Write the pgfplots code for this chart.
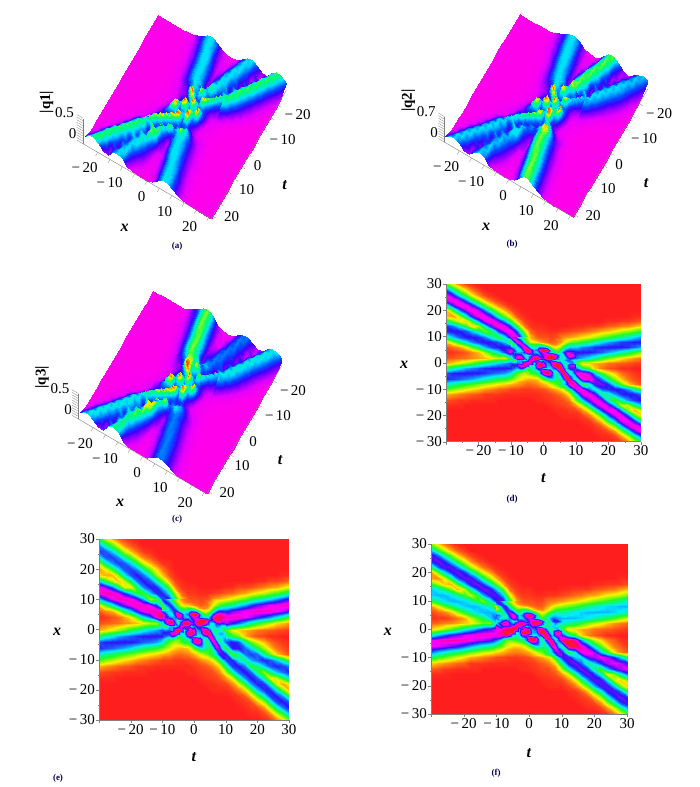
\documentclass[border=0pt]{standalone}
\usepackage{fontspec}
\setmainfont{Liberation Serif}
\usepackage{pgfplots}
\usepackage{pgfplotstable}
\pgfplotsset{compat=1.18}

% rows run x=30 ... x=-30 (step 2), columns t=-30 ... t=30 (step 2)
\pgfplotstableread[header=false]{
31 17 9 3 1 0 0 0 0 0 0 0 0 0 0 0 0 0 0 0 0 0 0 0 0 0 0 0 0 0 0
60 38 24 13 6 2 0 0 0 0 0 0 0 0 0 0 0 0 0 0 0 0 0 0 0 0 0 0 0 0 0
80 68 49 31 17 8 3 1 0 0 0 0 0 0 0 0 0 0 0 0 0 0 0 0 0 0 0 0 0 0 0
76 83 76 58 38 23 12 5 2 0 0 0 0 0 0 0 0 0 0 0 0 0 0 0 0 0 0 0 0 0 0
44 70 81 80 68 47 29 16 8 3 1 0 0 0 0 0 0 0 0 0 0 0 0 0 0 0 0 0 0 0 0
13 34 58 76 83 75 57 36 21 11 4 1 0 0 0 0 0 0 0 0 0 0 0 0 0 0 0 0 0 0 0
13 10 22 46 70 82 80 66 44 27 14 4 1 0 0 0 0 0 0 0 0 0 0 0 0 0 0 0 0 1 1
41 29 18 14 34 59 78 83 73 54 33 13 3 1 0 0 0 0 0 0 0 0 0 0 0 1 1 2 2 3 5
65 59 48 33 15 24 48 72 83 79 61 33 8 2 1 1 0 0 0 0 1 1 2 2 3 5 6 8 9 12 15
65 68 67 62 52 40 27 38 63 79 81 60 24 6 2 2 1 1 2 3 4 5 7 9 12 14 17 21 24 28 33
41 53 62 67 68 65 58 44 33 50 76 81 45 14 5 4 3 4 9 10 13 16 19 23 28 32 37 41 46 51 57
13 24 36 48 58 65 68 66 62 52 28 76 74 32 20 9 5 6 15 25 30 34 39 45 51 56 60 64 65 67 68
4 7 10 18 30 42 55 64 67 68 65 60 83 40 80 85 45 25 38 55 52 58 61 65 67 68 68 67 65 61 56
1 2 3 5 9 14 25 38 48 65 82 60 70 95 58 58 50 35 45 62 68 68 67 65 61 56 51 46 40 33 26
4 5 6 7 9 11 13 18 22 20 40 85 50 97 92 80 98 70 40 55 60 54 49 41 33 27 22 17 13 10 7
11 15 19 24 29 36 41 47 52 56 62 70 50 55 78 78 75 92 45 30 35 14 15 12 10 7 6 5 4 3 2
36 44 49 55 58 62 65 67 68 68 66 55 35 50 82 72 62 88 60 68 60 40 30 13 7 4 3 1 1 0 0
63 66 67 68 68 67 65 61 59 56 49 30 22 30 40 88 88 60 82 55 80 82 75 50 30 20 13 7 4 2 1
66 63 61 58 55 50 45 40 36 33 28 20 14 12 14 30 55 50 90 83 40 80 83 72 58 40 25 14 7 4 2
48 42 38 34 31 27 23 20 17 15 12 10 7 6 8 12 20 30 50 80 78 35 45 70 72 65 45 30 15 8 4
31 26 23 19 16 13 10 8 6 5 3 3 2 2 3 4 8 12 20 42 78 80 60 45 62 65 68 65 56 44 30
12 10 8 6 5 4 2 2 2 1 1 1 1 1 1 2 3 5 9 18 50 78 83 70 40 45 57 65 68 66 60
4 3 2 2 1 1 1 1 0 0 0 0 0 0 1 1 2 3 4 8 28 50 72 83 72 45 30 45 57 64 68
1 1 1 0 0 0 0 0 0 0 0 0 0 0 0 0 1 2 3 4 11 22 46 70 83 74 50 20 22 38 52
0 0 0 0 0 0 0 0 0 0 0 0 0 0 0 0 0 1 1 2 3 9 20 40 67 81 79 57 25 12 22
0 0 0 0 0 0 0 0 0 0 0 0 0 0 0 0 0 0 1 1 1 3 8 18 37 62 79 80 60 32 14
0 0 0 0 0 0 0 0 0 0 0 0 0 0 0 0 0 0 0 0 0 1 2 6 16 34 55 78 81 68 41
0 0 0 0 0 0 0 0 0 0 0 0 0 0 0 0 0 0 0 0 0 0 1 2 5 14 28 52 75 83 75
0 0 0 0 0 0 0 0 0 0 0 0 0 0 0 0 0 0 0 0 0 0 0 1 2 4 11 26 47 70 81
0 0 0 0 0 0 0 0 0 0 0 0 0 0 0 0 0 0 0 0 0 0 0 0 1 1 3 10 23 40 62
0 0 0 0 0 0 0 0 0 0 0 0 0 0 0 0 0 0 0 0 0 0 0 0 0 0 1 2 8 18 34
}\tabD
\pgfplotstableread[header=false]{
37 22 13 6 3 1 0 0 0 0 0 0 0 0 0 0 0 0 0 0 0 0 0 0 0 0 0 0 0 0 0
57 43 30 18 9 4 2 0 0 0 0 0 0 0 0 0 0 0 0 0 0 0 0 0 0 0 0 0 0 0 0
64 62 51 36 22 12 6 2 1 0 0 0 0 0 0 0 0 0 0 0 0 0 0 0 0 0 0 0 0 0 0
49 62 64 57 43 29 16 8 4 1 0 0 0 0 0 0 0 0 0 0 0 0 0 0 0 0 0 0 0 0 0
23 43 57 64 62 50 35 21 12 6 2 1 0 0 0 0 0 0 0 0 0 0 0 0 0 0 0 0 0 0 0
11 18 33 50 62 64 56 42 26 16 7 2 0 0 0 0 0 0 0 0 0 0 0 0 0 0 0 0 0 0 0
16 12 12 25 48 63 67 60 45 25 14 4 1 0 0 0 0 0 0 0 0 0 0 0 0 0 0 0 0 1 1
51 36 22 13 20 40 60 67 62 47 30 12 3 1 0 0 0 0 0 0 0 0 0 0 0 1 1 3 3 4 6
81 74 60 41 19 18 38 58 67 66 52 30 8 2 1 1 0 0 0 0 1 1 3 3 4 6 8 10 11 15 19
81 85 84 78 65 50 34 32 52 65 66 50 22 6 2 2 1 1 2 3 5 6 9 11 15 18 21 26 30 35 41
51 66 78 84 85 81 72 55 22 30 62 66 40 14 5 4 3 4 9 12 16 20 24 29 35 40 46 51 57 64 71
16 30 45 60 72 81 85 82 78 65 35 62 64 30 20 9 5 6 18 30 38 42 49 56 64 70 75 80 81 84 85
5 9 12 22 38 52 69 80 84 85 81 55 75 45 70 88 45 30 45 70 65 72 76 81 84 85 85 84 81 76 70
1 2 4 6 11 18 31 48 60 81 90 75 92 95 55 58 55 60 78 78 85 85 84 81 76 70 64 58 50 41 32
4 5 6 7 9 11 13 18 22 20 45 92 55 88 95 65 90 75 60 55 75 68 61 51 41 34 27 21 16 13 9
11 15 19 24 29 36 41 47 52 56 62 70 60 92 75 50 85 80 55 30 30 18 15 12 10 7 6 5 4 3 2
36 44 49 55 58 62 65 67 68 68 66 55 80 60 90 72 62 88 50 38 45 35 28 13 7 4 3 1 1 0 0
63 66 67 68 68 67 65 61 59 56 49 30 22 30 40 82 82 60 70 45 62 68 64 44 28 20 13 7 4 2 1
66 63 61 58 55 50 45 40 36 33 28 20 14 12 14 30 55 45 70 68 35 66 68 60 50 36 23 14 7 4 2
48 42 38 34 31 27 23 20 17 15 12 10 7 6 8 12 20 28 45 66 65 30 40 60 64 60 42 28 15 8 4
31 26 23 19 16 13 10 8 6 5 3 3 2 2 3 4 8 12 18 36 64 66 50 40 55 60 66 62 54 42 28
12 10 8 6 5 4 2 2 2 1 1 1 1 1 1 2 3 5 9 16 42 64 68 58 34 40 52 62 66 64 58
4 3 2 2 1 1 1 1 0 0 0 0 0 0 1 1 2 3 4 8 24 42 60 68 60 38 25 40 52 60 66
1 1 1 0 0 0 0 0 0 0 0 0 0 0 0 0 1 2 3 4 10 18 38 58 68 62 42 18 20 34 48
0 0 0 0 0 0 0 0 0 0 0 0 0 0 0 0 0 1 1 2 3 8 17 34 56 66 65 47 21 10 18
0 0 0 0 0 0 0 0 0 0 0 0 0 0 0 0 0 0 1 1 1 3 7 15 31 52 65 66 50 27 12
0 0 0 0 0 0 0 0 0 0 0 0 0 0 0 0 0 0 0 0 0 1 2 5 14 28 46 64 67 56 34
0 0 0 0 0 0 0 0 0 0 0 0 0 0 0 0 0 0 0 0 0 0 1 2 4 12 23 43 62 68 62
0 0 0 0 0 0 0 0 0 0 0 0 0 0 0 0 0 0 0 0 0 0 0 1 2 3 9 22 39 58 67
0 0 0 0 0 0 0 0 0 0 0 0 0 0 0 0 0 0 0 0 0 0 0 0 1 1 3 8 19 33 51
0 0 0 0 0 0 0 0 0 0 0 0 0 0 0 0 0 0 0 0 0 0 0 0 0 0 1 2 7 15 28
}\tabE
\pgfplotstableread[header=false]{
27 15 8 3 1 0 0 0 0 0 0 0 0 0 0 0 0 0 0 0 0 0 0 0 0 0 0 0 0 0 0
52 33 21 11 5 2 0 0 0 0 0 0 0 0 0 0 0 0 0 0 0 0 0 0 0 0 0 0 0 0 0
70 59 43 27 15 7 3 1 0 0 0 0 0 0 0 0 0 0 0 0 0 0 0 0 0 0 0 0 0 0 0
66 72 66 50 33 20 10 4 2 0 0 0 0 0 0 0 0 0 0 0 0 0 0 0 0 0 0 0 0 0 0
38 61 70 70 59 41 25 14 7 3 1 0 0 0 0 0 0 0 0 0 0 0 0 0 0 0 0 0 0 0 0
11 30 50 66 72 65 50 31 18 10 3 1 0 0 0 0 0 0 0 0 0 0 0 0 0 0 0 0 0 0 0
10 9 19 40 61 71 70 57 38 23 12 3 1 0 0 0 0 0 0 0 0 0 0 0 0 0 0 0 0 1 1
33 23 14 12 30 51 68 72 64 47 29 11 3 1 0 0 0 0 0 0 0 0 0 0 0 1 1 2 2 2 4
52 47 38 26 12 21 42 63 72 69 53 29 7 2 1 1 0 0 0 0 1 1 2 2 2 4 5 6 7 10 12
52 54 54 50 42 32 22 33 55 69 70 52 21 5 2 2 1 1 2 2 3 4 6 7 10 11 14 17 19 22 26
33 42 50 54 54 52 46 35 26 44 66 70 39 12 5 4 3 3 7 8 10 13 15 18 22 26 30 33 37 41 46
10 19 29 38 46 52 54 53 50 42 22 66 64 28 20 9 5 5 12 20 24 27 31 36 41 45 48 51 52 54 54
3 6 8 14 24 34 44 51 54 54 52 52 72 40 75 85 42 22 30 44 42 46 49 52 54 54 54 54 52 49 45
1 2 2 4 7 11 20 30 38 52 62 55 60 90 60 60 50 30 38 50 54 54 54 52 49 45 41 37 32 26 21
5 6 8 9 11 14 16 22 28 25 50 82 55 97 92 85 98 66 35 44 48 43 39 33 26 22 18 14 10 8 6
14 19 24 30 36 45 51 59 65 70 78 82 70 92 80 78 80 90 45 30 35 16 15 12 10 7 6 5 4 3 2
45 55 61 69 72 78 81 84 85 85 83 85 92 50 82 72 62 88 60 75 68 46 34 15 8 5 3 1 1 0 0
79 82 84 85 85 84 81 76 74 70 61 38 28 35 45 88 85 60 72 55 88 92 85 58 35 23 15 8 5 2 1
82 79 76 72 69 62 56 50 45 41 35 25 18 15 16 30 55 50 80 72 42 90 92 83 67 46 29 16 8 5 2
60 52 48 42 39 34 29 25 21 19 15 12 9 8 9 12 20 28 44 70 68 35 50 80 83 75 52 35 17 9 5
39 32 29 24 20 16 12 10 8 6 4 4 2 2 3 4 8 11 17 37 68 70 52 50 71 75 80 75 64 51 35
15 12 10 8 6 5 2 2 2 1 1 1 1 1 1 2 3 5 8 16 44 68 72 61 40 52 66 75 80 76 69
5 4 2 2 1 1 1 1 0 0 0 0 0 0 1 1 2 3 4 7 24 44 63 72 63 42 32 52 66 74 80
1 1 1 0 0 0 0 0 0 0 0 0 0 0 0 0 1 2 3 4 10 19 40 61 72 64 44 18 25 44 60
0 0 0 0 0 0 0 0 0 0 0 0 0 0 0 0 0 1 1 2 3 8 17 35 58 70 69 50 22 14 25
0 0 0 0 0 0 0 0 0 0 0 0 0 0 0 0 0 0 1 1 1 3 7 16 32 54 69 70 52 28 14
0 0 0 0 0 0 0 0 0 0 0 0 0 0 0 0 0 0 0 0 0 1 2 5 14 30 48 68 70 59 36
0 0 0 0 0 0 0 0 0 0 0 0 0 0 0 0 0 0 0 0 0 0 1 2 4 12 24 45 65 72 65
0 0 0 0 0 0 0 0 0 0 0 0 0 0 0 0 0 0 0 0 0 0 0 1 2 3 10 23 41 61 70
0 0 0 0 0 0 0 0 0 0 0 0 0 0 0 0 0 0 0 0 0 0 0 0 1 1 3 9 20 35 54
0 0 0 0 0 0 0 0 0 0 0 0 0 0 0 0 0 0 0 0 0 0 0 0 0 0 1 2 7 16 30
}\tabF

% interaction zone, finer: rows x=10 ... x=-10, columns t=-10 ... t=10 (step 1)
\pgfplotstableread[header=false]{
80 72 55 40 28 18 12 8 5 4 4 4 3 3 4 6 9 10 10 12 13
62 82 72 55 38 25 15 10 8 7 6 5 4 4 6 8 12 14 17 20 22
30 62 82 74 50 32 22 18 16 12 9 7 5 6 6 10 15 20 25 28 30
28 42 65 82 70 48 35 32 35 34 26 16 10 8 9 14 22 30 37 40 41
60 52 48 68 85 74 50 45 48 60 58 48 30 20 18 24 35 45 52 52 52
80 66 46 50 78 95 80 55 62 92 99 92 58 35 28 35 50 62 65 63 62
74 60 54 55 65 88 78 55 52 70 80 72 52 45 35 45 62 75 75 70 68
55 65 75 70 50 45 55 70 70 60 72 85 88 95 80 50 48 70 88 80 65
40 60 85 88 65 45 70 97 97 78 70 92 99 92 70 45 45 55 70 65 60
40 32 55 55 50 60 85 75 72 50 60 70 70 55 45 45 50 60 62 50 40
62 58 62 55 82 97 85 50 72 88 80 55 65 90 95 70 45 40 55 60 35
65 70 70 85 97 75 42 52 92 99 90 55 58 90 99 92 55 45 75 80 62
66 60 55 70 60 35 40 48 70 72 55 48 50 60 75 95 70 48 70 70 60
55 48 40 35 28 28 35 40 42 60 88 95 80 50 45 85 92 55 42 60 80
49 38 30 25 22 26 30 34 36 60 85 92 82 55 40 62 92 80 45 55 80
38 30 25 20 18 18 20 24 26 34 50 68 68 55 42 50 75 95 70 48 55
28 24 20 17 14 13 12 13 14 22 30 40 50 50 40 42 60 90 88 55 40
20 17 14 11 10 9 9 10 11 15 20 25 32 34 32 38 45 65 90 80 55
12 11 10 8 7 6 6 7 8 10 12 15 20 24 30 38 48 60 80 85 78
7 6 6 5 4 4 4 5 5 7 8 11 14 17 20 28 33 42 60 80 88
3 3 3 2 2 2 2 3 3 3 4 6 8 10 12 16 20 30 42 62 78
}\fineD
\pgfplotstableread[header=false]{
65 60 46 34 24 15 10 7 5 4 4 4 3 3 4 7 12 14 14 15 16
52 68 60 46 32 21 13 9 7 6 5 5 4 4 7 10 15 18 22 24 27
30 52 66 60 42 28 20 16 14 12 9 7 5 6 7 12 18 24 30 35 38
30 40 55 66 58 42 32 30 34 32 26 16 10 9 10 17 28 38 46 50 52
60 55 50 58 70 60 45 45 48 62 60 48 30 20 20 28 44 58 68 66 65
88 70 48 48 72 92 75 52 62 92 99 92 58 35 30 45 66 80 85 82 80
85 70 60 55 60 85 75 55 52 70 80 72 55 50 45 62 82 92 92 88 85
60 75 85 80 55 48 55 70 72 60 72 85 90 95 85 65 72 92 90 80 75
45 65 92 92 65 45 70 97 97 78 70 92 99 95 72 50 50 65 72 68 75
42 35 55 55 50 60 85 75 72 50 60 72 72 58 45 45 48 58 55 45 45
62 58 62 55 82 97 85 50 72 88 78 55 62 85 90 62 42 38 45 42 30
65 70 70 85 97 75 42 52 92 99 85 52 55 82 92 82 50 42 55 55 45
66 60 55 70 60 35 40 48 70 72 52 45 48 55 68 88 65 45 50 50 45
55 48 40 35 28 28 35 40 42 58 85 92 78 48 42 75 85 52 40 50 62
49 38 30 25 22 26 30 34 36 58 82 88 78 52 38 55 82 72 42 48 62
38 30 25 20 18 18 20 24 26 32 48 65 65 52 40 45 65 82 62 42 50
28 24 20 17 14 13 12 13 14 22 30 38 48 48 38 38 52 75 72 46 35
20 17 14 11 10 9 9 10 11 15 20 25 30 32 30 34 40 55 74 66 48
12 11 10 8 7 6 6 7 8 10 12 15 20 22 28 34 42 50 66 70 65
7 6 6 5 4 4 4 5 5 7 8 11 14 16 18 25 30 36 50 66 70
3 3 3 2 2 2 2 3 3 3 4 6 8 10 12 14 18 26 36 50 64
}\fineE
\pgfplotstableread[header=false]{
70 62 48 35 24 15 10 7 5 4 4 4 3 3 3 5 7 8 8 10 10
54 71 62 48 33 22 13 9 7 6 5 5 4 4 5 7 10 12 14 16 18
22 50 70 64 44 28 20 16 14 12 9 7 5 5 5 8 12 16 20 22 24
22 32 55 70 60 42 30 28 32 32 26 16 10 8 8 12 18 24 30 32 33
48 42 42 60 76 65 44 40 46 58 56 46 30 20 16 20 30 36 42 42 42
62 55 40 44 68 85 70 50 60 90 97 90 55 32 25 30 42 50 52 50 50
60 50 45 48 58 78 70 52 52 68 78 70 52 42 32 38 52 60 60 56 54
45 55 70 78 62 45 52 68 70 60 72 85 88 92 72 45 42 60 72 65 52
50 70 88 90 70 55 75 98 98 78 70 92 99 92 68 42 40 48 58 52 48
78 60 70 70 70 80 92 80 72 52 60 70 70 55 45 42 45 52 52 42 35
78 80 85 90 95 99 90 55 72 88 80 55 65 90 95 68 45 38 52 58 35
80 85 88 95 99 90 50 55 92 99 90 55 58 90 99 90 55 48 82 88 70
83 85 85 90 82 45 45 50 75 75 55 48 50 60 75 95 70 52 75 78 68
72 66 55 48 38 34 38 42 45 62 88 97 80 50 45 85 92 58 45 68 90
61 50 38 30 28 30 32 36 38 60 88 95 82 55 42 60 90 80 50 60 88
46 38 30 24 20 19 21 24 27 34 50 68 68 55 42 48 72 92 68 50 62
35 30 25 20 18 15 15 15 16 23 30 40 50 50 40 42 56 82 80 55 42
24 20 17 14 12 10 10 11 12 15 20 25 32 34 32 36 44 60 80 72 52
15 13 12 10 9 8 8 8 9 10 12 15 20 24 28 35 44 54 70 75 68
9 8 7 6 5 5 4 5 5 7 8 11 14 17 20 26 32 40 54 70 76
4 3 3 2 2 2 2 3 3 3 4 6 8 10 11 14 17 26 37 54 68
}\fineF

% turn a table into a coordinate stream for surf
% #1 table, #2 target, #3..#4 index range, #5 half width, #6 step
\newcommand{\buildgrid}[6]{%
  \gdef#2{}%
  \foreach \i in {#3,...,#4} {%
    \pgfmathtruncatemacro{\xc}{#5-#6*\i}%
    \foreach \j in {#3,...,#4} {%
      \pgfmathtruncatemacro{\tc}{-#5+#6*\j}%
      \pgfplotstablegetelem{\i}{[index]\j}\of#1%
      \xdef#2{#2 (\tc,\xc,\pgfplotsretval)}%
    }%
  }%
}
\buildgrid{\tabD}{\gridD}{0}{30}{30}{2}
\buildgrid{\tabE}{\gridE}{0}{30}{30}{2}
\buildgrid{\tabF}{\gridF}{0}{30}{30}{2}
\buildgrid{\tabD}{\subD}{2}{28}{30}{2}
\buildgrid{\tabE}{\subE}{2}{28}{30}{2}
\buildgrid{\tabF}{\subF}{2}{28}{30}{2}
\buildgrid{\fineD}{\midD}{0}{20}{10}{1}
\buildgrid{\fineE}{\midE}{0}{20}{10}{1}
\buildgrid{\fineF}{\midF}{0}{20}{10}{1}

\pgfplotsset{
  colormap={heat}{rgb255(0cm)=(255,30,30) rgb255(17cm)=(255,240,0) rgb255(33cm)=(30,255,30)
    rgb255(50cm)=(0,235,255) rgb255(67cm)=(40,20,255) rgb255(80cm)=(255,0,255)
    rgb255(87cm)=(255,0,130) rgb255(92cm)=(255,20,50) rgb255(100cm)=(255,30,30)},
  colormap={hill}{rgb255(0cm)=(255,0,235) rgb255(12cm)=(225,0,255) rgb255(35cm)=(60,0,255)
    rgb255(48cm)=(0,80,255) rgb255(65cm)=(0,225,255)
    rgb255(78cm)=(0,255,100) rgb255(90cm)=(240,240,0) rgb255(100cm)=(255,50,0)},
}
\tikzset{tl/.style={font=\fontsize{15}{16}\selectfont,inner sep=0pt},
  ll/.style={font=\fontsize{16}{16}\selectfont\bfseries\itshape,inner sep=0pt},
  capt/.style={font=\fontsize{9}{10}\selectfont\bfseries,text=black!70!blue,inner sep=0pt}}

% 2D density panel: #1 x, #2 y, #3 w, #4 h, #5 grid, #6 xlabel y, #7 ylabel x, #8 fine grid
\newcommand{\heat}[8]{%
  \begin{axis}[at={(#1pt,#2pt)},anchor=south west,width=#3pt,height=#4pt,scale only axis,
    view={0}{90},xmin=-30,xmax=30,ymin=-30,ymax=30,
    axis lines=left,axis line style={-,gray},
    tick style={gray,line width=.3pt},tick align=outside,major tick length=3pt,minor tick length=1.5pt,
    xtick={-30,-20,...,30},xticklabels={,−\,20,−\,10,0,10,20,30},
    ytick={-30,-20,...,30},yticklabels={−\,30,−\,20,−\,10,0,10,20,30},
    minor tick num=1,
    tick label style={font=\fontsize{15}{16}\selectfont},
    xticklabel style={inner sep=1pt},yticklabel style={inner sep=1pt},
    xlabel={\textbf{\textit{t}}},ylabel={\textbf{\textit{x}}},
    label style={font=\fontsize{16}{16}\selectfont},
    xlabel style={at={(axis description cs:.5,#6)},anchor=center},
    ylabel style={at={(axis description cs:#7,.485)},anchor=center,rotate=-90},
    colormap name=heat,point meta min=0,point meta max=100]
    \def\tmp{\addplot3[surf,shader=interp,mesh/cols=31] coordinates}%
    \expandafter\tmp\expandafter{#5};
    \def\tmp{\addplot3[surf,shader=interp,mesh/cols=21] coordinates}%
    \expandafter\tmp\expandafter{#8};
  \end{axis}}

% 3D panel around centre #1,#2; #3 grid; #4 name; #5 z top label; #6 fine grid
\newcommand{\hill}[6]{%
  \begin{axis}[at={(#1pt,#2pt)},anchor=origin,hide axis,clip=false,disabledatascaling,
    x={(-1.442pt,-2.467pt)},y={(2.469pt,-1.442pt)},z={(0pt,0.15pt)},
    xmin=-26,xmax=26,ymin=-26,ymax=26,zmin=0,zmax=167,
    colormap name=hill,point meta min=0,point meta max=100]
    \def\tmp{\addplot3[surf,shader=interp,z buffer=sort,mesh/cols=27] coordinates}%
    \expandafter\tmp\expandafter{#3};
    \def\tmp{\addplot3[surf,shader=interp,z buffer=sort,mesh/cols=21] coordinates}%
    \expandafter\tmp\expandafter{#6};
    \draw[gray,line width=.4pt] (axis cs:26,-26,0) -- (axis cs:26,26,0) -- (axis cs:-26,26,0);
    \draw[gray,line width=.4pt] (axis cs:26,-26,0) -- (axis cs:26,-26,167);
    \pgfplotsinvokeforeach{-20,-15,...,25}{%
      \draw[gray,line width=.3pt] (axis cs:26,##1,0) -- (axis cs:27.5,##1,0);
      \draw[gray,line width=.3pt] (axis cs:##1,26,0) -- (axis cs:##1,27.5,0);}
    \pgfplotsinvokeforeach{0,17,...,167}{%
      \draw[gray,line width=.3pt] (axis cs:26,-26,##1) -- (axis cs:26,-28.5,##1);}
  \end{axis}%
  \begin{scope}[shift={(#1pt,#2pt)}]
    \node[tl] at (-100pt,-51pt) {−\,20};
    \node[tl] at (-75pt,-66pt) {−\,10};
    \node[tl] at (-43pt,-80pt) {0};
    \node[tl] at (-20pt,-95pt) {10};
    \node[tl] at (5pt,-110pt) {20};
    \node[ll] at (-60pt,-111pt) {x};
    \node[tl] at (113pt,2pt) {−\,20};
    \node[tl] at (98pt,-23pt) {−\,10};
    \node[tl] at (73pt,-49pt) {0};
    \node[tl] at (62pt,-73pt) {10};
    \node[tl] at (47pt,-100pt) {20};
    \node[ll] at (100pt,-68pt) {t};
    \node[tl] at (-120pt,4pt) {#5};
    \node[tl] at (-112pt,-17pt) {0};
    \node[tl,font=\fontsize{15}{16}\selectfont\bfseries,rotate=90] at (-138pt,15pt) {|#4|};
  \end{scope}}

\begin{document}
\begin{tikzpicture}[x=1pt,y=1pt]
  \path[use as bounding box] (0,0) rectangle (699,787);
  \hill{184.6}{670}{\subD}{q1}{0.5}{\midD}
  \hill{546.2}{671.5}{\subE}{q2}{0.7}{\midE}
  \hill{180}{394.7}{\subF}{q3}{0.5}{\midF}
  \heat{446}{345.3}{195}{157.7}{\gridD}{-.232}{-.215}{\midD}
  \heat{99}{67}{190}{181}{\gridE}{-.204}{-.22}{\midE}
  \heat{431}{73}{196}{170}{\gridF}{-.229}{-.22}{\midF}
  \node[capt] at (177,541) {(a)};
  \node[capt] at (512,543) {(b)};
  \node[capt] at (177,268) {(c)};
  \node[capt] at (512,288) {(d)};
  \node[capt] at (58,9) {(e)};
  \node[capt] at (496,14) {(f)};
\end{tikzpicture}
\end{document}
